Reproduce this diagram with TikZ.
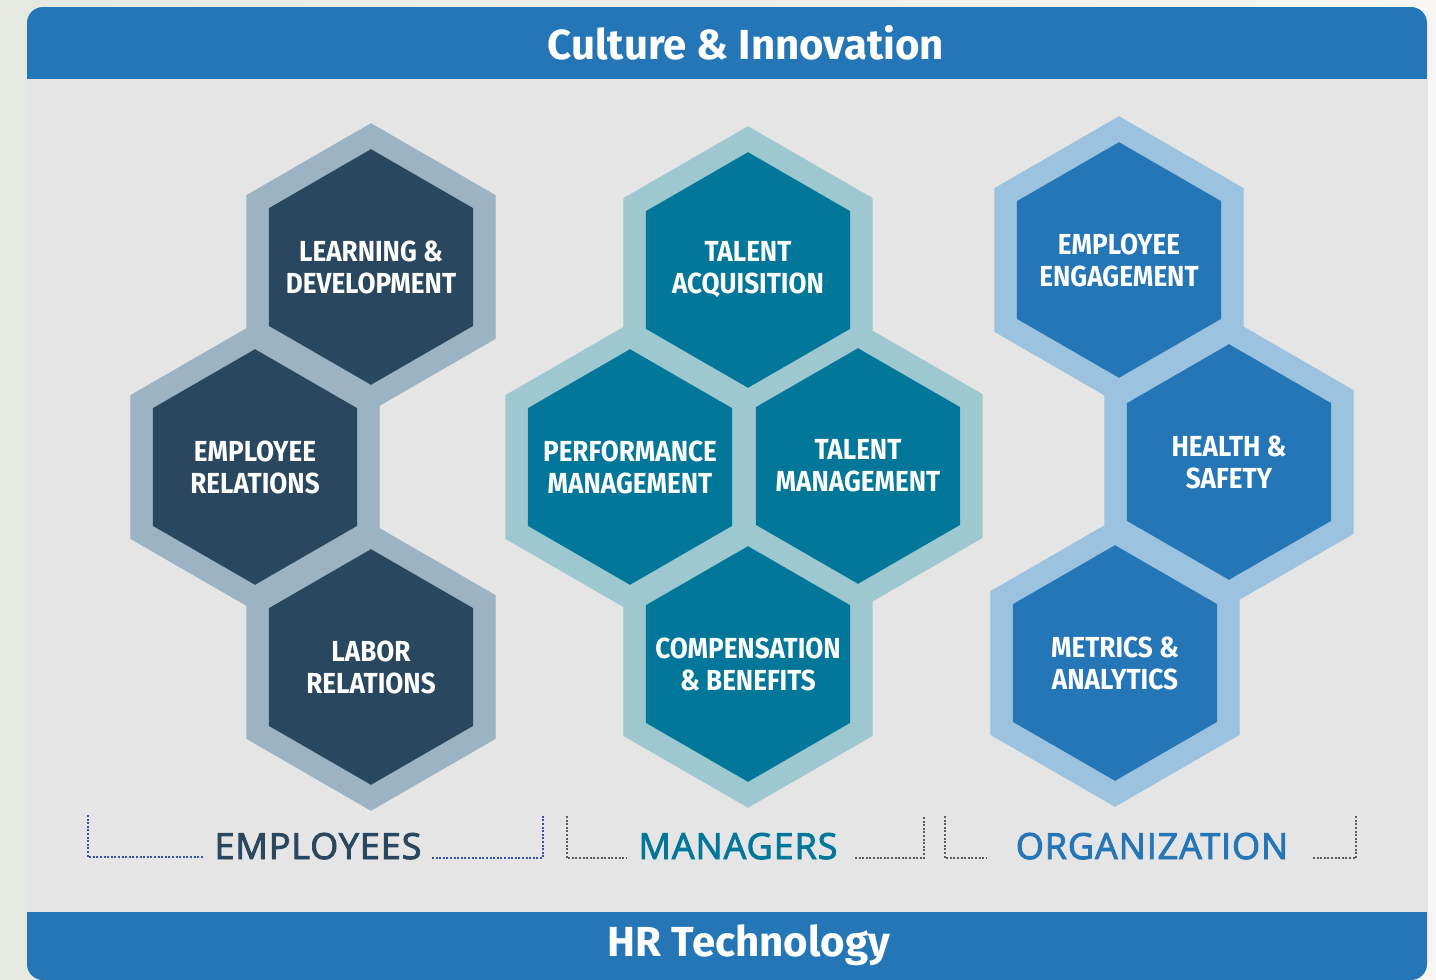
\documentclass[tikz,border=0pt]{standalone}
\usepackage{fontspec}
\setmainfont{Fira Sans}
\newfontfamily\hexfont[FakeStretch=0.9]{Fira Sans}
\newfontfamily\tierfont[LetterSpace=2.5,FakeBold=2.5]{Open Sans}
\usepackage{xcolor}
\usepackage{tikz}
\usetikzlibrary{shapes.geometric,positioning,calc}
\definecolor{bandblue}{HTML}{2576B7}
\definecolor{panelgray}{HTML}{E5E5E5}
\definecolor{empdark}{HTML}{29475F}
\definecolor{emplight}{HTML}{9BB3C3}
\definecolor{mgrdark}{HTML}{027799}
\definecolor{mgrlight}{HTML}{9DC8D0}
\definecolor{orgdark}{HTML}{2576B7}
\definecolor{orglight}{HTML}{9BC2DE}
\definecolor{empline}{HTML}{3550A8}
\definecolor{greyline}{HTML}{5C5C5C}
\definecolor{pageleft}{HTML}{E4EAE2}
\definecolor{pageright}{HTML}{F7F6F5}

\begin{document}
\begin{tikzpicture}[
    x=1pt, y=-1pt,
    hexring/.style={regular polygon, regular polygon sides=6, shape border rotate=30, minimum size=287.6pt, inner sep=0pt, outer sep=0pt, fill=#1},
    hexcell/.style={regular polygon, regular polygon sides=6, shape border rotate=30, minimum size=235.6pt, inner sep=0pt, outer sep=0pt, fill=#1},
    hextext/.style={text=white, align=center, inner sep=0pt, font=\hexfont\bfseries\fontsize{29}{32}\selectfont},
    bandtext/.style={text=white, font=\bfseries\fontsize{42}{46}\selectfont},
    tier/.style={anchor=base, text=#1, font=\tierfont\fontsize{36}{40}\selectfont},
    bracket/.style={draw=#1, line width=1.4pt, dash pattern=on 2pt off 1.6pt}
]

% page and frame
\fill[left color=pageleft, right color=pageright] (0,0) rectangle (1436,980);
\fill[bandblue, rounded corners=16] (27,7) rectangle (1427,980);
\fill[panelgray] (27,79) rectangle (1427,912);

% top and bottom bands
\node[bandtext] (culture) at (746,43) {Culture \& Innovation};
\node[bandtext] (hrtech) at (749,945) {HR Technology};

% Employees column
\node[hexring=emplight] (ld-r) at (371,267) {};
\node[hexring=emplight] (er-r) at (255,467) {};
\node[hexring=emplight] (lr-r) at (371,667) {};
\node[hexcell=empdark, label={[hextext]center:LEARNING \&\\DEVELOPMENT}] (ld) at (371,267) {};
\node[hexcell=empdark, label={[hextext]center:EMPLOYEE\\RELATIONS}] (er) at (255,467) {};
\node[hexcell=empdark, label={[hextext]center:LABOR\\RELATIONS}] (lr) at (371,667) {};

% Managers column
\node[hexring=mgrlight] (ta-r) at (748,270) {};
\node[hexring=mgrlight] (pm-r) at (630,467) {};
\node[hexring=mgrlight] (tm-r) at (858,466) {};
\node[hexring=mgrlight] (cb-r) at (748,664) {};
\node[hexcell=mgrdark, label={[hextext]center:TALENT\\ACQUISITION}] (ta) at (748,270) {};
\node[hexcell=mgrdark, label={[hextext]center:PERFORMANCE\\MANAGEMENT}] (pm) at (630,467) {};
\node[hexcell=mgrdark, label={[hextext]center:TALENT\\MANAGEMENT}] (tm) at (858,466) {};
\node[hexcell=mgrdark, label={[hextext]center:COMPENSATION\\\& BENEFITS}] (cb) at (748,664) {};

% Organization column
\node[hexring=orglight] (ee-r) at (1119,260) {};
\node[hexring=orglight] (hs-r) at (1229,462) {};
\node[hexring=orglight] (ma-r) at (1115,663) {};
\node[hexcell=orgdark, label={[hextext]center:EMPLOYEE\\ENGAGEMENT}] (ee) at (1119,260) {};
\node[hexcell=orgdark, label={[hextext]center:HEALTH \&\\SAFETY}] (hs) at (1229,462) {};
\node[hexcell=orgdark, label={[hextext]center:METRICS \&\\ANALYTICS}] (ma) at (1115,663) {};

% tier labels
\node[tier=empdark] (emp) at (318,859) {EMPLOYEES};
\node[tier=mgrdark] (mgr) at (738,859) {MANAGERS};
\node[tier=orgdark] (org) at (1152,859) {ORGANIZATION};

% brackets under the columns
\coordinate (emp-a) at (88,815);
\coordinate (emp-b) at (203,857);
\coordinate (emp-c) at (432,858);
\coordinate (emp-d) at (543,816);
\draw[bracket=empline] (emp-a) |- (emp-b);
\draw[bracket=empline] (emp-c) -| (emp-d);

\coordinate (mgr-a) at (567,816);
\coordinate (mgr-b) at (627,858);
\coordinate (mgr-c) at (855,858);
\coordinate (mgr-d) at (924,816);
\draw[bracket=greyline] (mgr-a) |- (mgr-b);
\draw[bracket=greyline] (mgr-c) -| (mgr-d);

\coordinate (org-a) at (945,816);
\coordinate (org-b) at (987,858);
\coordinate (org-c) at (1313,858);
\coordinate (org-d) at (1356,816);
\draw[bracket=greyline] (org-a) |- (org-b);
\draw[bracket=greyline] (org-c) -| (org-d);

\end{tikzpicture}
\end{document}
